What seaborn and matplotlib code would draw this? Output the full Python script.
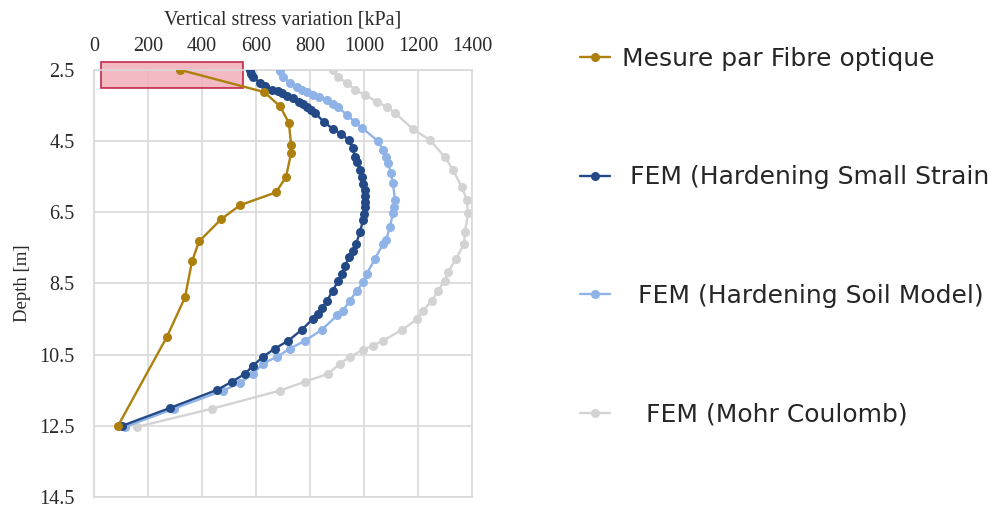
import numpy as np
import pandas as pd
import matplotlib.pyplot as plt
import seaborn as sns
from matplotlib.patches import Rectangle

# Mesure par Fibre optique
fibre_stress = [320, 630, 689, 722, 730, 730, 711, 674, 541, 470, 389, 363, 337, 270, 89]
fibre_depth = [2.5, 3.12, 3.52, 3.99, 4.61, 4.84, 5.51, 5.94, 6.30, 6.70, 7.32, 7.88, 8.89, 10.0, 12.5]

# FEM (Hardening Small Strain)
hss_stress = [578, 582, 589, 615, 635, 659, 680, 696, 715, 737, 760, 775, 789, 805, 819, 850, 885,
              915, 944, 958, 967, 975, 985, 992, 998, 1004, 1005, 1005, 1004, 1000, 996, 985, 970,
              958, 944, 930, 919, 904, 885, 863, 845, 830, 811, 770, 719, 670, 626, 589, 559, 511,
              456, 281, 104]
hss_depth = [2.5, 2.6, 2.7, 2.86, 2.95, 3.06, 3.1, 3.15, 3.22, 3.29, 3.4, 3.47, 3.54, 3.62, 3.71,
             3.95, 4.16, 4.3, 4.47, 4.7, 4.95, 5.1, 5.32, 5.5, 5.7, 5.88, 6.05, 6.2, 6.36, 6.55,
             6.73, 7.06, 7.4, 7.6, 7.77, 8.0, 8.22, 8.42, 8.7, 8.98, 9.2, 9.35, 9.49, 9.8, 10.11,
             10.33, 10.56, 10.81, 11.04, 11.26, 11.49, 12.0, 12.5]

# FEM (Hardening Soil Model)
hs_stress = [689, 700, 726, 750, 770, 790, 811, 835, 863, 885, 904, 937, 965, 993, 1052, 1070, 1080,
             1089, 1100, 1107, 1115, 1112, 1107, 1096, 1081, 1070, 1041, 1011, 996, 974, 948, 922,
             900, 844, 781, 726, 678, 626, 589, 541, 478, 296, 115]
hs_depth = [2.53, 2.7, 2.87, 2.97, 3.06, 3.13, 3.2, 3.27, 3.35, 3.45, 3.54, 3.77, 3.95, 4.13, 4.5,
            4.75, 4.95, 5.12, 5.4, 5.68, 6.16, 6.35, 6.53, 6.92, 7.29, 7.4, 7.8, 8.22, 8.47, 8.7,
            8.98, 9.26, 9.4, 9.8, 10.11, 10.33, 10.56, 10.75, 11.04, 11.29, 11.51, 12.02, 12.53]

# FEM (Mohr Coulomb)
mc_stress = [885, 904, 937, 967, 1004, 1048, 1085, 1115, 1181, 1244, 1300, 1330, 1363, 1381, 1385,
             1374, 1370, 1341, 1311, 1300, 1274, 1252, 1219, 1196, 1141, 1070, 1033, 996, 948, 911,
             867, 781, 689, 437, 159]
mc_depth = [2.5, 2.7, 2.87, 3.06, 3.2, 3.4, 3.54, 3.71, 4.16, 4.47, 4.95, 5.32, 5.8, 6.16, 6.53,
            7.06, 7.4, 7.8, 8.19, 8.42, 8.7, 8.98, 9.26, 9.51, 9.8, 10.11, 10.25, 10.36, 10.56,
            10.75, 11.04, 11.26, 11.51, 12.02, 12.53]

labels = ['Mesure par Fibre optique', ' FEM (Hardening Small Strain',
          '  FEM (Hardening Soil Model)', '   FEM (Mohr Coulomb)']
colors = ['#AD7F0C', '#234A86', '#8FB3E6', '#D3D3D3']

y_ticks = [2.5, 4.5, 6.5, 8.5, 10.5, 12.5, 14.5]
x_ticks = [0, 200, 400, 600, 800, 1000, 1200, 1400]

sns.set_theme(style='whitegrid')
plt.rcParams['font.family'] = ['Liberation Serif', 'DejaVu Serif']

fig = plt.figure(figsize=(10, 5.08), dpi=100)
ax = fig.add_axes([0.094, 0.0217, 0.378, 0.8406])

series = [(fibre_stress, fibre_depth), (hss_stress, hss_depth),
          (hs_stress, hs_depth), (mc_stress, mc_depth)]
zorders = [5, 4, 3, 2]
for i in [3, 2, 1, 0]:
    xs, ys = series[i]
    df = pd.DataFrame({'stress': xs, 'depth': ys})
    sns.lineplot(data=df, x='stress', y='depth', sort=False, estimator=None, ax=ax,
                 color=colors[i], marker='o', markersize=6.5, markeredgewidth=0,
                 linewidth=1.7, zorder=zorders[i], label=labels[i])

# highlighted zone
rect = Rectangle((26, 2.27), 526, 0.73, facecolor='#F2AEB9', alpha=0.85,
                 edgecolor='#C0183C', linewidth=1.3, zorder=1, clip_on=False)
ax.add_patch(rect)

ax.set_xlim(0, 1400)
ax.set_ylim(14.5, 2.5)
ax.set_xticks(x_ticks)
ax.set_yticks(y_ticks)
ax.set_yticklabels([str(v) for v in y_ticks])
ax.xaxis.tick_top()
ax.xaxis.set_label_position('top')
ax.tick_params(axis='both', length=0, labelsize=14.5, colors='#2a2a2a')
ax.tick_params(axis='x', pad=10)
ax.tick_params(axis='y', pad=14)
ax.set_xlabel('Vertical stress variation [kPa]', fontsize=14.5, color='#2a2a2a', labelpad=9)
ax.set_ylabel('Depth [m]', fontsize=13.5, color='#2a2a2a', labelpad=6)
ax.grid(True, color='#D9D9D9', linewidth=1.2)
for s in ax.spines.values():
    s.set_color('#D9D9D9')
    s.set_linewidth(1.2)

h, l = ax.get_legend_handles_labels()
ax.get_legend().remove()
order = [l.index(lab) for lab in labels]
leg = fig.legend([h[k] for k in order], [l[k] for k in order], loc='upper left',
                 bbox_to_anchor=(0.557, 0.952), frameon=False, labelspacing=3.78,
                 handlelength=1.2, handletextpad=0.5,
                 prop={'family': 'DejaVu Sans', 'size': 18})

fig.savefig('out.png', dpi=100)
